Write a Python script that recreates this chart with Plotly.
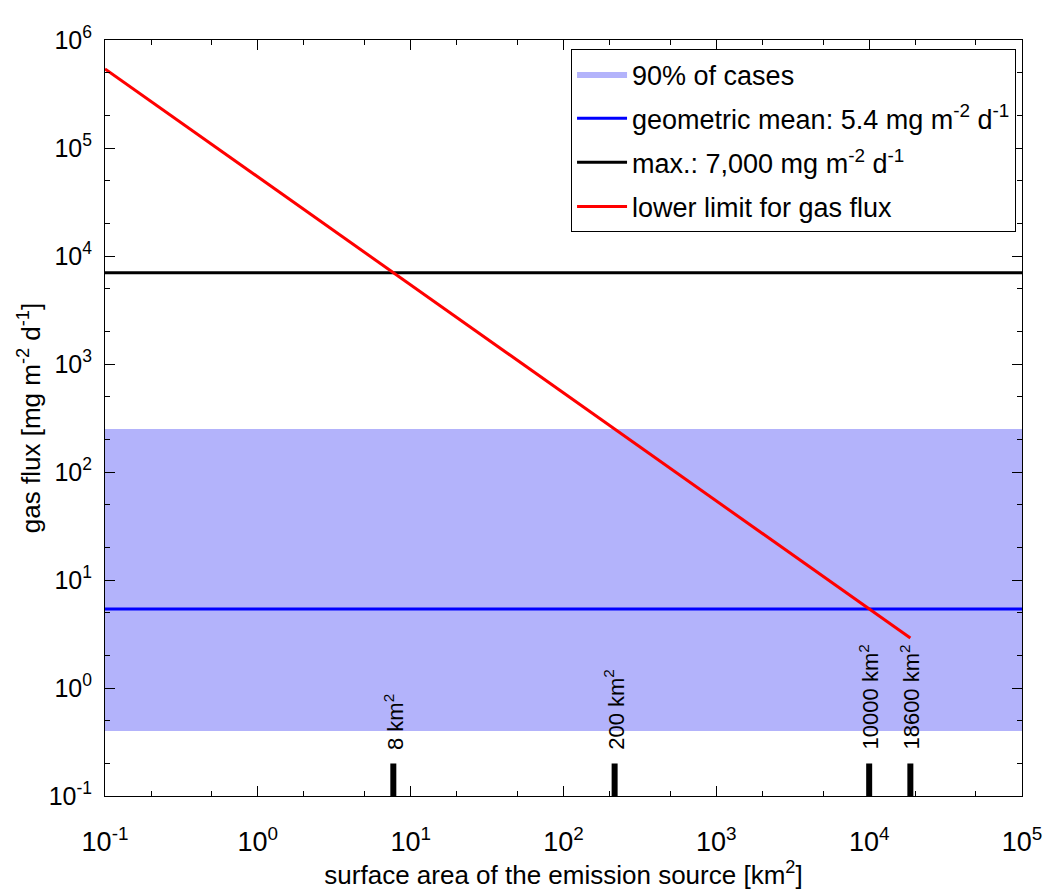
import math
import plotly.graph_objects as go

# ---- data ----
x_range = [0.1, 1e5]
y_range = [0.1, 1e6]
band_low = 0.4
band_high = 250
geo_mean = 5.4
max_flux = 7000
lower_x = [0.1, 18600]
lower_y = [540000, 2.9]
marker_areas = [7.7, 216, 10000, 18600]
marker_labels = ["8 km<sup>2</sup>", "200 km<sup>2</sup>", "10000 km<sup>2</sup>", "18600 km<sup>2</sup>"]
marker_bar_top = 0.2
x_tickvals = [0.1, 1, 10, 100, 1000, 10000, 100000]
x_ticktext = ["10<sup>-1</sup>", "10<sup>0</sup>", "10<sup>1</sup>", "10<sup>2</sup>",
              "10<sup>3</sup>", "10<sup>4</sup>", "10<sup>5</sup>"]
y_tickvals = [0.1, 1, 10, 100, 1000, 10000, 100000, 1000000]
y_ticktext = ["10<sup>-1</sup>", "10<sup>0</sup>", "10<sup>1</sup>", "10<sup>2</sup>",
              "10<sup>3</sup>", "10<sup>4</sup>", "10<sup>5</sup>", "10<sup>6</sup>"]
legend_labels = ["90% of cases",
                 "geometric mean: 5.4 mg m<sup>-2</sup> d<sup>-1</sup>",
                 "max.: 7,000 mg m<sup>-2</sup> d<sup>-1</sup>",
                 "lower limit for gas flux"]

FONT = "Liberation Sans, Arial, Helvetica, sans-serif"

fig = go.Figure()

# 90% band
fig.add_trace(go.Scatter(
    x=[x_range[0], x_range[1], x_range[1], x_range[0], x_range[0]],
    y=[band_low, band_low, band_high, band_high, band_low],
    fill="toself", fillcolor="#b3b3fb", mode="lines",
    line=dict(width=0, color="#b3b3fb"),
    name=legend_labels[0], legendgroup="a", hoverinfo="skip"))

# geometric mean
fig.add_trace(go.Scatter(
    x=x_range, y=[geo_mean, geo_mean], mode="lines",
    line=dict(color="#0000ff", width=3),
    name=legend_labels[1], legendgroup="b"))

# max
fig.add_trace(go.Scatter(
    x=x_range, y=[max_flux, max_flux], mode="lines",
    line=dict(color="#000000", width=3),
    name=legend_labels[2], legendgroup="c"))

# lower limit
fig.add_trace(go.Scatter(
    x=lower_x, y=lower_y, mode="lines",
    line=dict(color="#ff0000", width=3),
    name=legend_labels[3], legendgroup="d"))

# marker bars
bx, by = [], []
for a in marker_areas:
    bx += [a, a, None]
    by += [y_range[0], marker_bar_top, None]
fig.add_trace(go.Scatter(
    x=bx, y=by, mode="lines", line=dict(color="black", width=6),
    showlegend=False, hoverinfo="skip", cliponaxis=False))

for a, lab in zip(marker_areas, marker_labels):
    fig.add_annotation(
        x=math.log10(a), y=-0.59, xref="x", yref="y",
        text=lab, textangle=-90, showarrow=False,
        xanchor="center", yanchor="bottom",
        font=dict(family=FONT, size=22, color="black"))

axis_common = dict(
    type="log", showgrid=False, zeroline=False, automargin=False,
    showline=True, linecolor="black", linewidth=1, mirror="ticks",
    ticks="inside", ticklen=10, tickcolor="black", tickwidth=1,
    minor=dict(ticks="inside", ticklen=5, tickcolor="black", tickwidth=1, showgrid=False),
)

fig.update_xaxes(
    **axis_common,
    range=[math.log10(x_range[0]), math.log10(x_range[1])],
    tickvals=x_tickvals, ticktext=x_ticktext,
    tickfont=dict(family=FONT, size=27, color="black"),
    ticklabelstandoff=22,
    title=dict(text="surface area of the emission source [km<sup>2</sup>]",
               font=dict(family=FONT, size=26, color="black"), standoff=8),
)
fig.update_yaxes(
    **axis_common,
    range=[math.log10(y_range[0]), math.log10(y_range[1])],
    tickvals=y_tickvals, ticktext=y_ticktext,
    tickfont=dict(family=FONT, size=25, color="black"),
    ticklabelstandoff=7,
    title=dict(text="gas flux [mg m<sup>-2</sup> d<sup>-1</sup>]",
               font=dict(family=FONT, size=26, color="black"), standoff=0),
)

fig.update_layout(
    width=1045, height=892,
    margin=dict(l=105, r=23, t=40, b=96),
    paper_bgcolor="white", plot_bgcolor="white",
    font=dict(family=FONT, color="black"),
    legend=dict(
        x=0.9935, y=0.988, xanchor="right", yanchor="top",
        bgcolor="white", bordercolor="black", borderwidth=1,
        font=dict(family=FONT, size=27, color="black"),
        tracegroupgap=6, itemwidth=50,
    ),
    showlegend=True,
)

fig.write_html("out.html")
